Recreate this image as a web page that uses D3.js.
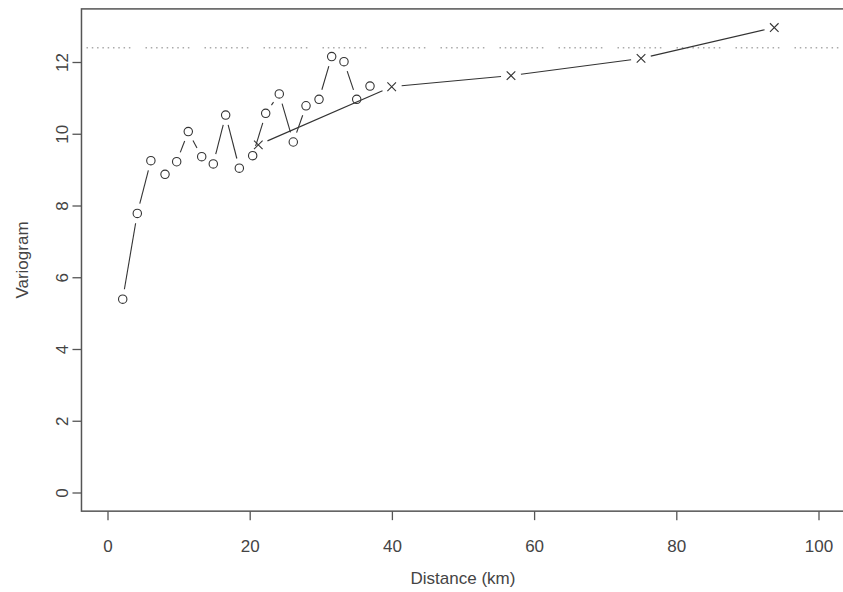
<!DOCTYPE html>
<html lang="en">
<head>
    <meta charset="UTF-8">
    <title>Variogram</title>
    <script src="https://cdnjs.cloudflare.com/ajax/libs/d3/7.8.5/d3.min.js"></script>
    <style>
        body {
            margin: 0;
            background-color: white;
        }
        svg text {
            font-family: "Liberation Sans", Arial, sans-serif;
            font-size: 17px;
            fill: #444;
        }
    </style>
</head>
<body>
    <svg id="chart" width="843" height="592"></svg>

    <script>
        // Empirical variogram (circles)
        const lagDist = [2.14, 4.19, 6.1, 8.09, 9.73, 11.36, 13.25, 14.88, 16.62, 18.54,
                         20.42, 22.25, 24.16, 26.13, 27.92, 29.75, 31.53, 33.26, 35.05, 36.92];
        const lagGamma = [5.39, 7.78, 9.25, 8.87, 9.22, 10.06, 9.36, 9.16, 10.52, 9.04,
                          9.39, 10.57, 11.11, 9.77, 10.78, 10.96, 12.15, 12.01, 10.96, 11.33];

        // Binned variogram (crosses)
        const binDist = [21.21, 39.97, 56.75, 75.04, 93.78];
        const binGamma = [9.69, 11.31, 11.62, 12.10, 12.96];

        // Sill (dotted line)
        const sill = 12.40;

        const xTicks = [0, 20, 40, 60, 80, 100];
        const yTicks = [0, 2, 4, 6, 8, 10, 12];

        const svg = d3.select("#chart");

        // scales - data range padded like R's default 4% extension
        const x = d3.scaleLinear().domain([0, 100]).range([107.5, 818.5]);
        const y = d3.scaleLinear().domain([0, 12]).range([492.5, 62]);
        const xlim = [-3.66, 104];
        const ylim = [-0.52, 13.48];

        const boxLeft = x(xlim[0]), boxRight = x(xlim[1]);
        const boxTop = y(ylim[1]), boxBottom = y(ylim[0]);

        // axes
        const xAxis = svg.append("g")
            .attr("transform", `translate(0,${boxBottom})`)
            .call(d3.axisBottom(x).tickValues(xTicks).tickSize(9).tickPadding(20));
        const yAxis = svg.append("g")
            .attr("transform", `translate(${boxLeft},0)`)
            .call(d3.axisLeft(y).tickValues(yTicks).tickSize(9));

        [xAxis, yAxis].forEach(g => {
            g.select(".domain").remove();
            g.selectAll(".tick line").attr("stroke", "#555").attr("stroke-width", 1.3);
            g.selectAll("text").attr("font-size", null).attr("font-family", null).attr("fill", null);
        });
        xAxis.attr("font-size", null).attr("font-family", null);
        yAxis.attr("font-size", null).attr("font-family", null);

        // R style: y labels parallel to the axis
        yAxis.selectAll(".tick text")
            .attr("x", null)
            .attr("dy", null)
            .attr("text-anchor", "middle")
            .attr("transform", "translate(-13,0) rotate(-90)");

        // box
        svg.append("rect")
            .attr("x", boxLeft)
            .attr("y", boxTop)
            .attr("width", boxRight - boxLeft)
            .attr("height", boxBottom - boxTop)
            .attr("fill", "none")
            .attr("stroke", "#555")
            .attr("stroke-width", 1.5);

        // sill
        const dots = [];
        for (let i = 0; i < 8; i++) dots.push(1.5, 3.8);
        dots.push(1.5, 15.1);
        svg.append("line")
            .attr("x1", boxLeft + 5)
            .attr("x2", boxRight)
            .attr("y1", y(sill))
            .attr("y2", y(sill))
            .attr("stroke", "#aaa")
            .attr("stroke-width", 1.5)
            .attr("stroke-dasharray", dots.join(","));

        // type = "b": segments stop short of the points
        function drawSegments(xs, ys, gap) {
            const pts = xs.map((d, i) => [x(d), y(ys[i])]);
            const segs = [];
            for (let i = 0; i < pts.length - 1; i++) {
                const [x1, y1] = pts[i], [x2, y2] = pts[i + 1];
                const len = Math.hypot(x2 - x1, y2 - y1);
                if (len <= 2 * gap) continue;
                const ux = (x2 - x1) / len, uy = (y2 - y1) / len;
                segs.push([x1 + ux * gap, y1 + uy * gap, x2 - ux * gap, y2 - uy * gap]);
            }
            svg.append("g").selectAll("line")
                .data(segs)
                .enter().append("line")
                .attr("x1", d => d[0]).attr("y1", d => d[1])
                .attr("x2", d => d[2]).attr("y2", d => d[3])
                .attr("stroke", "#333")
                .attr("stroke-width", 1.1);
        }

        drawSegments(lagDist, lagGamma, 10);
        drawSegments(binDist, binGamma, 10);

        svg.append("g").selectAll("circle")
            .data(lagDist)
            .enter().append("circle")
            .attr("cx", d => x(d))
            .attr("cy", (d, i) => y(lagGamma[i]))
            .attr("r", 4.2)
            .attr("fill", "none")
            .attr("stroke", "#333")
            .attr("stroke-width", 1.1);

        const s = 4.3;
        svg.append("g").selectAll("path")
            .data(binDist)
            .enter().append("path")
            .attr("d", (d, i) => {
                const cx = x(d), cy = y(binGamma[i]);
                return `M${cx - s},${cy - s}L${cx + s},${cy + s}M${cx - s},${cy + s}L${cx + s},${cy - s}`;
            })
            .attr("stroke", "#333")
            .attr("stroke-width", 1.1);

        // axis titles
        svg.append("text")
            .attr("x", (x(0) + x(100)) / 2)
            .attr("y", 584)
            .attr("text-anchor", "middle")
            .text("Distance (km)");

        svg.append("text")
            .attr("transform", `translate(28,${(boxTop + boxBottom) / 2}) rotate(-90)`)
            .attr("text-anchor", "middle")
            .text("Variogram");
    </script>
</body>
</html>
